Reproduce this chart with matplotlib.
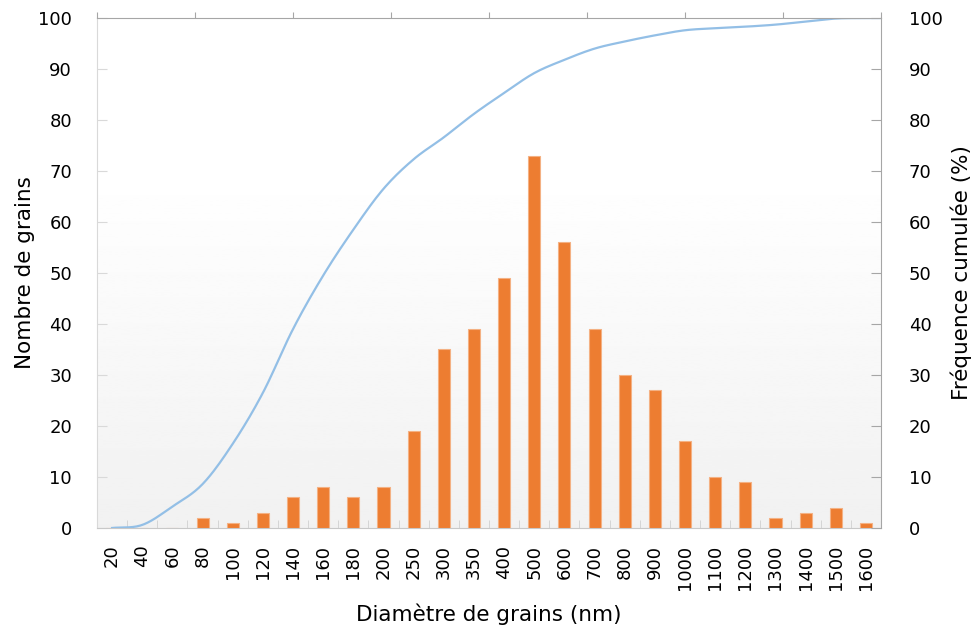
import numpy as np
import matplotlib.pyplot as plt

diametres = ["20", "40", "60", "80", "100", "120", "140", "160", "180", "200",
             "250", "300", "350", "400", "500", "600", "700", "800", "900", "1000",
             "1100", "1200", "1300", "1400", "1500", "1600"]
nombre = [0, 0, 0, 2, 1, 3, 6, 8, 6, 8,
          19, 35, 39, 49, 73, 56, 39, 30, 27, 17,
          10, 9, 2, 3, 4, 1]
cumul = [0, 0.6, 4.2, 8.6, 16.5, 26.5, 39.0, 49.5, 58.5, 66.5,
         72.3, 76.6, 81.2, 85.3, 89.2, 91.8, 94.0, 95.4, 96.6, 97.6,
         98.0, 98.3, 98.7, 99.3, 99.9, 100]


def lisse(x, y, n=16):
    # courbe lissée type Excel (catmull-rom)
    x = np.asarray(x, float)
    y = np.asarray(y, float)
    px = np.concatenate([[2 * x[0] - x[1]], x, [2 * x[-1] - x[-2]]])
    py = np.concatenate([[2 * y[0] - y[1]], y, [2 * y[-1] - y[-2]]])
    t = np.linspace(0, 1, n, endpoint=False)
    xs, ys = [], []
    for i in range(1, len(px) - 2):
        for p, out in ((px, xs), (py, ys)):
            p0, p1, p2, p3 = p[i - 1], p[i], p[i + 1], p[i + 2]
            out.extend(0.5 * (2 * p1 + (p2 - p0) * t
                              + (2 * p0 - 5 * p1 + 4 * p2 - p3) * t ** 2
                              + (3 * p1 - p0 - 3 * p2 + p3) * t ** 3))
    xs.append(x[-1])
    ys.append(y[-1])
    return np.array(xs), np.clip(ys, 0, 100)


x = np.arange(len(diametres))

fig = plt.figure(figsize=(9.75, 6.32), dpi=100)
ax = fig.add_axes([0.0995, 0.1646, 0.8041, 0.8069])

# fond en dégradé
grad = np.interp(np.linspace(1, 0, 200), [0, 0.7, 1], [0.945, 1, 1]).reshape(-1, 1)
ax.imshow(grad, extent=[0, 1, 0, 1], transform=ax.transAxes, aspect="auto",
          cmap="gray", vmin=0, vmax=1, zorder=0)

ax.bar(x, nombre, width=0.4, color="#ED7D31", edgecolor="#F4B183",
       linewidth=0.8, zorder=3)
ax.set_xlim(-0.5, len(diametres) - 0.5)
ax.set_ylim(0, 100)
ax.set_yticks(range(0, 101, 10))
ax.set_xticks(x)
ax.set_xticklabels(diametres, rotation=90, fontsize=13)
ax.set_xticks(np.arange(len(diametres) + 1) - 0.5, minor=True)
ax.tick_params(axis="x", which="major", length=0, pad=12)
ax.tick_params(axis="x", which="minor", direction="in", length=6, color="#d0d0d0")
ax.tick_params(axis="y", direction="in", length=7, color="#d9d9d9", labelsize=13, pad=18)
ax.spines["top"].set_visible(False)
ax.spines["right"].set_visible(False)
ax.spines["left"].set_color("#d9d9d9")
ax.spines["bottom"].set_color("#c8c8c8")
ax.set_ylabel("Nombre de grains", fontsize=15.5, labelpad=2)
ax.set_xlabel("Diamètre de grains (nm)", fontsize=15.5, labelpad=10)

ax2 = ax.twinx()
lx, ly = lisse(x, cumul)
lx = np.append(lx, ax.get_xlim()[1])
ly = np.append(ly, cumul[-1])
ax2.plot(lx, ly, color="#93bfe6", linewidth=1.6, zorder=4)
ax2.set_ylim(0, 100)
ax2.set_yticks(range(0, 101, 10))
ax2.tick_params(axis="y", direction="in", length=7, color="#a6a6a6", labelsize=13, pad=20)
for s in ["left", "top", "bottom"]:
    ax2.spines[s].set_visible(False)
ax2.spines["right"].set_color("#a6a6a6")
ax2.set_ylabel("Fréquence cumulée (%)", fontsize=15.5, labelpad=6)

ax3 = ax.twiny()
ax3.set_xlim(0, 8)
ax3.set_xticks(range(9))
ax3.set_xticklabels([])
ax3.tick_params(axis="x", direction="out", length=4, color="#a6a6a6")
for s in ["left", "right", "bottom"]:
    ax3.spines[s].set_visible(False)
ax3.spines["top"].set_color("#a6a6a6")

fig.savefig("out.png", dpi=100)
